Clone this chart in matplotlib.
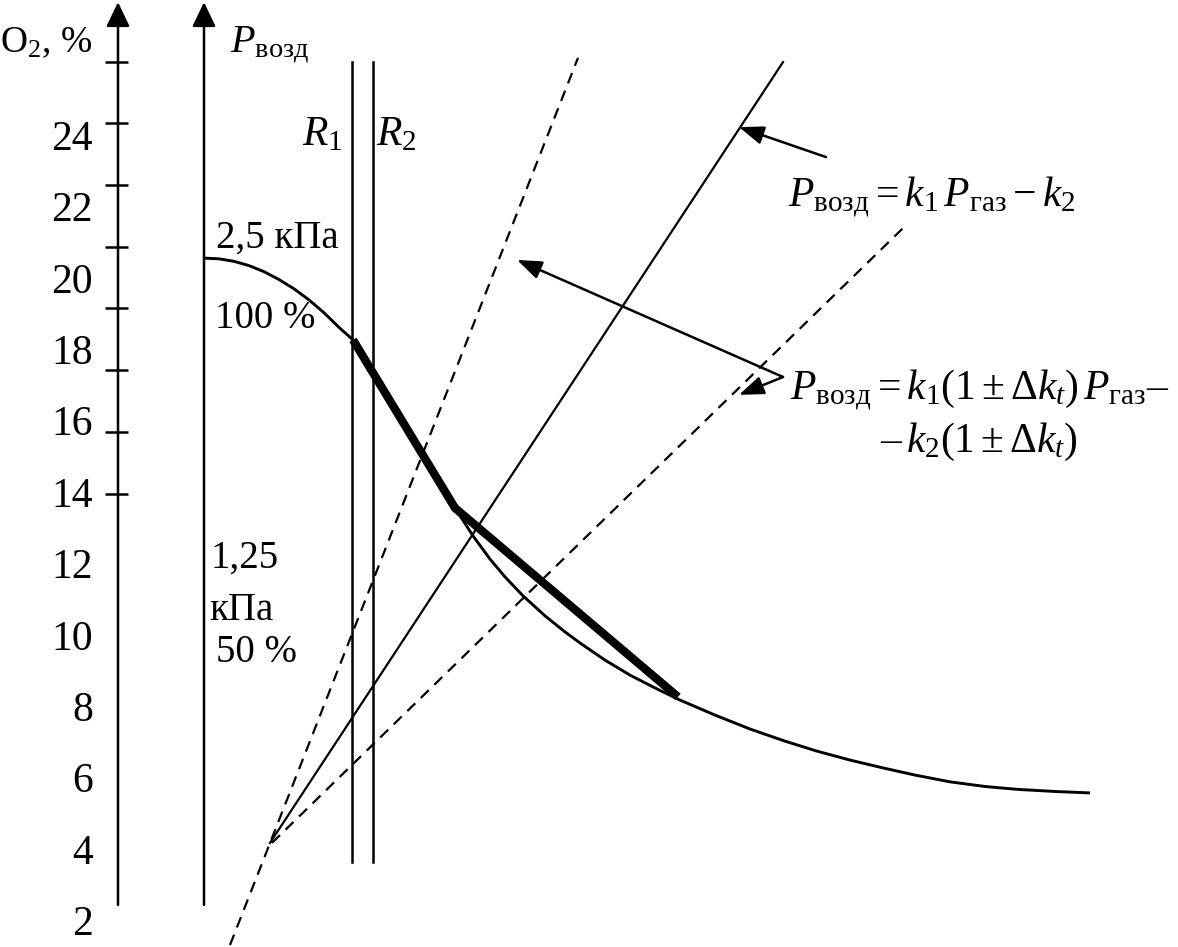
import numpy as np
import matplotlib as mpl
import matplotlib.pyplot as plt

mpl.rc('font', family='Liberation Serif')
mpl.rc('mathtext', fontset='custom', rm='Liberation Serif',
       it='Liberation Serif:italic', bf='Liberation Serif:bold')

# x: horizontal position along the sketch (P_gas, arbitrary units)
# y: O2, %
o2_labels = [2, 4, 6, 8, 10, 12, 14, 16, 18, 20, 22, 24]
o2_ticks = [14.07, 15.81, 17.55, 19.28, 20.99, 22.73, 24.46, 26.17]

# characteristic curve
curve_x = [204, 219, 234, 249, 264, 279, 294, 309, 324, 339, 353,
           373, 417, 455, 473, 490, 505, 523, 545, 565, 580, 605, 630,
           655, 680, 715, 750, 785, 817, 850, 883, 915, 950, 985, 1017,
           1055, 1090]
curve_y = [20.68, 20.66, 20.59, 20.47, 20.30, 20.08, 19.82, 19.51, 19.15,
           18.74, 18.39, 17.46, 15.50, 13.68, 12.90, 12.25, 11.75, 11.22,
           10.66, 10.21, 9.90, 9.42, 9.00, 8.64, 8.30, 7.88, 7.49, 7.15,
           6.87, 6.62, 6.40, 6.20, 6.01, 5.88, 5.80, 5.74, 5.70]

# piecewise linear approximation (bold)
approx_x = [353, 455, 678]
approx_y = [18.39, 13.68, 8.39]

# nominal line and its tolerance band
line_x = [270, 783]
line_y = [4.30, 26.17]
band_hi_x = [230, 578]
band_hi_y = [1.44, 26.29]
band_lo_x = [272, 903]
band_lo_y = [4.30, 21.52]

# range limits R1, R2
r_x = [352, 373]
r_y = [3.76, 26.17]

o2_axis_x = 118
p_axis_x = 204
axis_y = [2.56, 27.85]

fig = plt.figure(figsize=(11.78, 9.47), dpi=100)
ax = fig.add_axes([0, 0, 1, 1])
ax.set_xlim(0, 1178)
ax.set_ylim(1.384, 27.91)
ax.axis('off')

lw = 1.8
head_axis = dict(arrowstyle='-|>,head_length=0.75,head_width=0.36',
                 mutation_scale=20, color='k', lw=lw, shrinkA=0, shrinkB=0)
head_note = dict(arrowstyle='-|>,head_length=0.75,head_width=0.28',
                 mutation_scale=20, color='k', lw=lw, shrinkA=0, shrinkB=0)

# the two vertical axes
for xa in (o2_axis_x, p_axis_x):
    ax.annotate('', xy=(xa, axis_y[1]), xytext=(xa, axis_y[0]), arrowprops=head_axis)

ax.hlines(o2_ticks, 105, 128, color='k', lw=lw)
for v in o2_labels:
    ax.text(93, v, str(v), ha='right', va='center', fontsize=30)

ax.text(0, 26.45, r'O$_{2}$, %', fontsize=27, va='baseline', ha='left')
ax.text(230, 26.43, r'$P_{\mathrm{возд}}$', fontsize=29, va='baseline', ha='left')

# R1, R2
for xr in r_x:
    ax.plot([xr, xr], r_y, color='k', lw=lw)
ax.text(302, 23.85, r'$R_{1}$', fontsize=30, va='baseline', ha='left')
ax.text(376, 23.85, r'$R_{2}$', fontsize=30, va='baseline', ha='left')

# curve and approximation
ax.plot(curve_x, curve_y, color='k', lw=2.1, solid_capstyle='butt')
ax.plot(approx_x, approx_y, color='k', lw=6.0, solid_joinstyle='miter', solid_capstyle='butt')

ax.plot(line_x, line_y, color='k', lw=1.6)
ax.plot(band_hi_x, band_hi_y, color='k', lw=1.6, dashes=(5, 3.5))
ax.plot(band_lo_x, band_lo_y, color='k', lw=1.6, dashes=(5, 3.5))

# callouts
ax.annotate('', xy=(739, 24.35), xytext=(826, 23.51), arrowprops=head_note)
ax.annotate('', xy=(517, 20.63), xytext=(783, 17.35), arrowprops=head_note)
ax.annotate('', xy=(739, 16.85), xytext=(783, 17.35), arrowprops=head_note)

# text
ax.text(216, 20.96, '2,5 кПа', fontsize=28, va='baseline')
ax.text(215, 18.72, '100 %', fontsize=28, va='baseline')
ax.text(211, 12.0, '1,25', fontsize=28, va='baseline')
ax.text(209, 10.54, 'кПа', fontsize=28, va='baseline')
ax.text(216, 9.37, '50 %', fontsize=28, va='baseline')

ax.text(788, 22.11, r'$P_{\mathrm{возд}} = k_1\,P_{\mathrm{газ}} - k_2$',
        fontsize=30, va='baseline')
ax.text(790, 16.71, r'$P_{\mathrm{возд}} = k_1(1\pm\Delta k_t)\,P_{\mathrm{газ}}$' + '\u2013',
        fontsize=30, va='baseline')
ax.text(880, 15.25, '\u2013' + r'$\,k_2(1\pm\Delta k_t)$', fontsize=30, va='baseline')

fig.savefig('out.png', dpi=100, facecolor='white')
